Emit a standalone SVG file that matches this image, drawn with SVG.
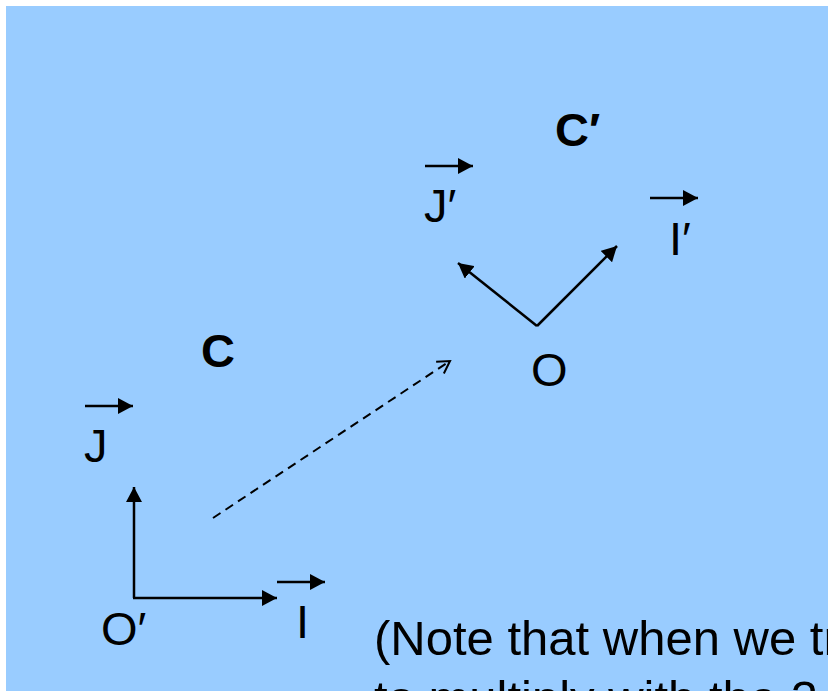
<svg xmlns="http://www.w3.org/2000/svg" width="828" height="691" viewBox="0 0 828 691">
  <style>
    .lbl { font-family: "Liberation Sans", Arial, sans-serif; font-size: 47px; fill: #000; }
    .bold { font-weight: bold; }
    .note { font-family: "Liberation Sans", Arial, sans-serif; font-size: 49px; fill: #000; }
    .vec { stroke: #000; stroke-width: 2.5; fill: none; marker-end: url(#solid); }
    .dash { stroke: #000; stroke-width: 2; fill: none; stroke-dasharray: 9 6; marker-end: url(#open); }
  </style>
  <defs>
    <marker id="solid" markerUnits="userSpaceOnUse" markerWidth="16" markerHeight="16" refX="15" refY="8" orient="auto" viewBox="0 0 16 16">
      <path d="M0,0 L15,8 L0,16 z" fill="#000"/>
    </marker>
    <marker id="open" markerUnits="userSpaceOnUse" markerWidth="16" markerHeight="16" refX="14" refY="8" orient="auto" viewBox="0 0 16 16" overflow="visible">
      <path d="M2,1 L14,8 L2,15" fill="none" stroke="#000" stroke-width="2"/>
    </marker>
  </defs>
  <rect x="0" y="0" width="828" height="691" fill="#ffffff"/>
  <rect x="6" y="6" width="822" height="685" fill="#99CCFF"/>

  <g id="connectors">
    <line class="vec" x1="134" y1="598" x2="134" y2="487"/>
    <line class="vec" x1="133" y1="598" x2="277" y2="598"/>
    <line class="vec" x1="537" y1="326" x2="458" y2="263"/>
    <line class="vec" x1="537" y1="326" x2="617" y2="246"/>
    <line class="dash" x1="213" y1="518" x2="450" y2="361"/>
  </g>

  <g id="label-Cprime"><text class="lbl bold" x="555" y="146">C′</text></g>
  <g id="label-Jprime">
    <line class="vec" x1="425" y1="166" x2="473" y2="166"/>
    <text class="lbl" x="424" y="222">J′</text>
  </g>
  <g id="label-Iprime">
    <line class="vec" x1="650" y1="198" x2="698" y2="198"/>
    <text class="lbl" x="669" y="255">I′</text>
  </g>
  <g id="label-O"><text class="lbl" x="531" y="386">O</text></g>
  <g id="label-C"><text class="lbl bold" x="201" y="367">C</text></g>
  <g id="label-J">
    <line class="vec" x1="85" y1="406" x2="133" y2="406"/>
    <text class="lbl" x="84" y="462">J</text>
  </g>
  <g id="label-I">
    <line class="vec" x1="277" y1="582" x2="325" y2="582"/>
    <text class="lbl" x="296" y="638">I</text>
  </g>
  <g id="label-Oprime"><text class="lbl" x="101" y="645">O′</text></g>

  <g id="note">
    <text class="note" x="374" y="655">(Note that when we tr</text>
    <text class="note" x="374" y="715">to multiply with the 3</text>
  </g>
</svg>
